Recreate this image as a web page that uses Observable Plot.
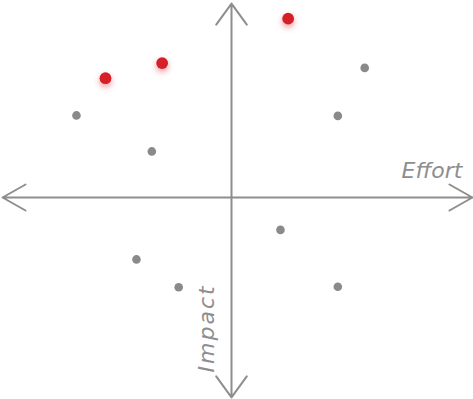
<!DOCTYPE html>
<html>
<head>
<meta charset="utf-8">
<script src="https://cdn.jsdelivr.net/npm/d3@7"></script>
<script src="https://cdn.jsdelivr.net/npm/@observablehq/plot@0.6"></script>
<style>
  html, body { margin: 0; padding: 0; background: #fff; }
  #chart svg { display: block; }
</style>
</head>
<body>
<div id="chart"></div>
<script>
// Effort (x) vs Impact (y)
const grayEffort = [-6.46, -3.32, 5.55, 4.43, 2.04, -3.96, -2.20, 4.43];
const grayImpact = [3.42, 1.92, 5.40, 3.40, -1.35, -2.58, -3.74, -3.72];
const redEffort = [-5.25, -2.89, 2.36];
const redImpact = [4.97, 5.60, 7.45];
const axisLabels = ["Effort", "Impact"];
const axisExtent = {xMin: -9.54, xMax: 10.04, yMin: -8.33, yMax: 8.08};

const gray = grayEffort.map((x, i) => ({x, y: grayImpact[i]}));
const red = redEffort.map((x, i) => ({x, y: redImpact[i]}));

const axisColor = "#8e8e8e";
const font = "'DejaVu Sans', sans-serif";

const hArrows = [
  {x1: 0, y1: 0, x2: axisExtent.xMax, y2: 0},
  {x1: 0, y1: 0, x2: axisExtent.xMin, y2: 0}
];
const vArrows = [
  {x1: 0, y1: 0, x2: 0, y2: axisExtent.yMax},
  {x1: 0, y1: 0, x2: 0, y2: axisExtent.yMin}
];

const plot = Plot.plot({
  width: 473,
  height: 399,
  margin: 0,
  x: {domain: [-10, 10], range: [-9, 471], axis: null},
  y: {domain: [-10, 10], range: [437, -43], axis: null},
  style: {background: "#fff", overflow: "visible"},
  marks: [
    Plot.arrow(hArrows, {x1: "x1", y1: "y1", x2: "x2", y2: "y2", stroke: axisColor, strokeWidth: 2, headAngle: 59, headLength: 19.8}),
    Plot.arrow(vArrows, {x1: "x1", y1: "y1", x2: "x2", y2: "y2", stroke: axisColor, strokeWidth: 2, headAngle: 72, headLength: 19.5}),
    Plot.text([axisLabels[0]], {
      x: axisExtent.xMax, y: 0, text: d => d,
      textAnchor: "end", lineAnchor: "middle", dx: -10, dy: -27,
      fontSize: 22, fontStyle: "italic", fontWeight: 200, fontFamily: font, fill: axisColor
    }),
    Plot.text([axisLabels[1]], {
      x: 0, y: axisExtent.yMin, text: d => d, rotate: -90,
      textAnchor: "start", lineAnchor: "middle", dx: -24.5, dy: -25,
      fontSize: 22, fontStyle: "italic", fontWeight: 200, fontFamily: font, fill: axisColor
    }),
    Plot.dot(gray, {x: "x", y: "y", r: 4.3, fill: "#8a8a8a", stroke: "none"}),
    Plot.dot(red, {x: "x", y: "y", r: 5.9, fill: "#d61f27", stroke: "none"})
  ]
});

plot.querySelectorAll("circle").forEach(c => {
  if (c.getAttribute("fill") === "#d61f27" || (c.parentNode && c.parentNode.getAttribute("fill") === "#d61f27")) {
    c.style.filter = "drop-shadow(0px 3px 3px rgba(214,31,39,0.45))";
  }
});
plot.querySelectorAll("text").forEach(t => {
  if (t.textContent === axisLabels[1]) t.style.letterSpacing = "2px";
});

document.getElementById("chart").appendChild(plot);
</script>
</body>
</html>
